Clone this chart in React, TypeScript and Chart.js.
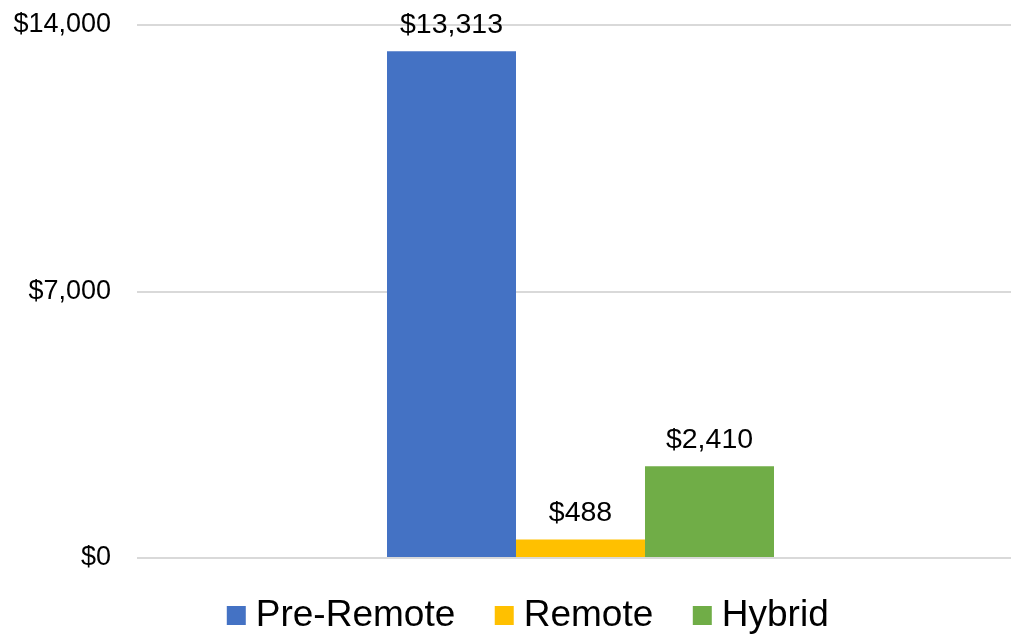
import React, { useEffect, useRef } from "react";
import { Chart, registerables } from "chart.js";

Chart.register(...registerables);

const categories: string[] = [""];
const seriesNames: string[] = ["Pre-Remote", "Remote", "Hybrid"];
const preRemote: number[] = [13313];
const remote: number[] = [488];
const hybrid: number[] = [2410];
const seriesColors: string[] = ["#4472C4", "#FFC000", "#70AD47"];
const yTicks: number[] = [0, 7000, 14000];

const FONT = "'Liberation Sans', Arial, sans-serif";

const fmt = (v: number) => "$" + v.toLocaleString("en-US");

const valueLabels = {
  id: "valueLabels",
  afterDatasetsDraw(chart: any) {
    const ctx = chart.ctx;
    ctx.save();
    ctx.font = `28.5px ${FONT}`;
    ctx.fillStyle = "#000000";
    ctx.textAlign = "center";
    ctx.textBaseline = "alphabetic";
    chart.data.datasets.forEach((ds: any, i: number) => {
      const meta = chart.getDatasetMeta(i);
      meta.data.forEach((bar: any, j: number) => {
        const v = ds.data[j];
        if (v == null) return;
        ctx.fillText(fmt(v), bar.x, bar.y - 18);
      });
    });
    ctx.restore();
  },
};

const legendShift = {
  id: "legendShift",
  beforeDraw(chart: any) {
    const lg = chart.legend;
    if (lg && !lg._shifted) {
      lg.left += 14;
      lg.right += 14;
      lg.top -= 9;
      lg.bottom -= 9;
      lg._shifted = true;
    }
  },
};

export default function App() {
  const ref = useRef<HTMLCanvasElement | null>(null);

  useEffect(() => {
    if (!ref.current) return;
    const seriesData = [preRemote, remote, hybrid];
    const chart = new Chart(ref.current, {
      type: "bar",
      data: {
        labels: categories,
        datasets: seriesNames.map((name, i) => ({
          label: name,
          data: seriesData[i],
          backgroundColor: seriesColors[i],
          borderWidth: 0,
          categoryPercentage: 0.4363,
          barPercentage: 1,
        })),
      },
      options: {
        responsive: false,
        animation: false,
        devicePixelRatio: 1,
        layout: { padding: { top: 25, left: 12, right: 0, bottom: 0 } },
        plugins: {
          tooltip: { enabled: false },
          legend: {
            position: "bottom",
            labels: {
              usePointStyle: true,
              pointStyle: "rect",
              boxWidth: 2,
              boxHeight: 19,
              padding: 48,
              color: "#000000",
              font: { family: FONT, size: 37 },
            },
          },
        },
        scales: {
          x: { display: false },
          y: {
            min: 0,
            max: 14000,
            afterBuildTicks: (scale: any) => {
              scale.ticks = yTicks.map((v) => ({ value: v }));
            },
            afterFit: (scale: any) => {
              scale.width = 125;
              scale.paddingTop = 0;
              scale.paddingBottom = 0;
            },
            border: { display: false },
            grid: { color: "#d9d9d9", lineWidth: 2, drawTicks: false },
            ticks: {
              padding: 26,
              color: "#000000",
              font: { family: FONT, size: 27 },
              callback: (v: any) => fmt(Number(v)),
            },
          },
        },
      },
      plugins: [valueLabels, legendShift],
    });
    return () => chart.destroy();
  }, []);

  return (
    <div
      style={{
        position: "fixed",
        left: 0,
        top: 0,
        width: 1011,
        height: 635,
        overflow: "hidden",
        background: "#ffffff",
      }}
    >
      <canvas ref={ref} width={1024} height={653} style={{ display: "block" }} />
    </div>
  );
}
